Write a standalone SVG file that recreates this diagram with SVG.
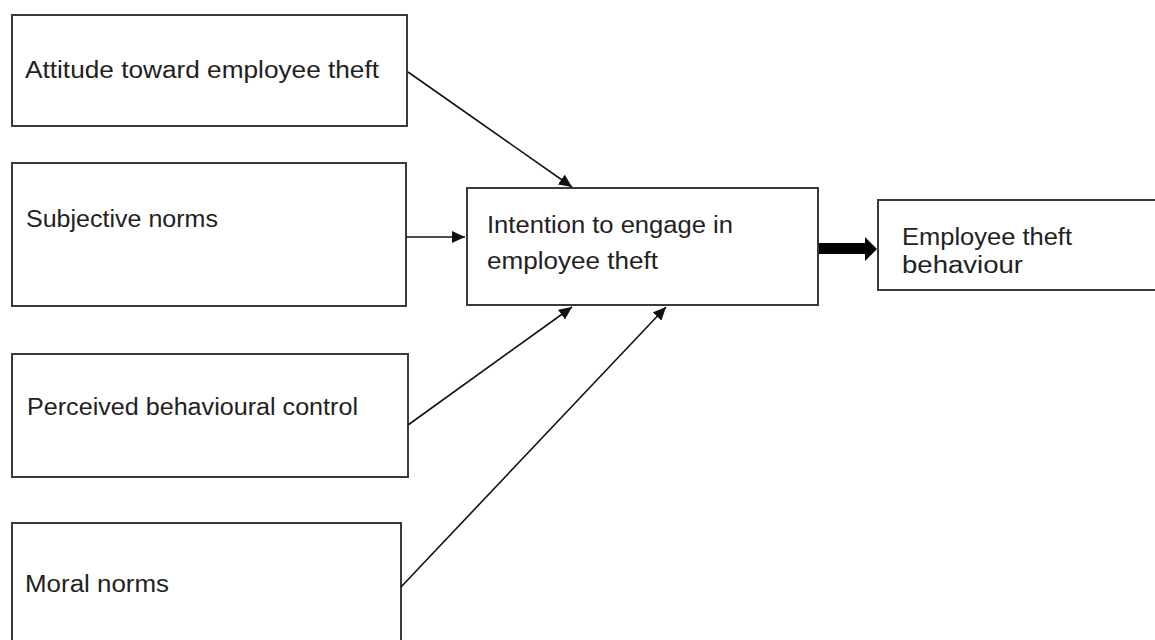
<svg xmlns="http://www.w3.org/2000/svg" width="1155" height="640" viewBox="0 0 1155 640">
<style>
.box{fill:#fff;stroke:#3a3a3a;stroke-width:2}
.t{font-family:"Liberation Sans",Arial,sans-serif;font-size:23px;fill:#222}
.c{stroke:#111;stroke-width:1.6;fill:none}
</style>
<defs>
<marker id="ah" markerUnits="userSpaceOnUse" markerWidth="14" markerHeight="12" refX="13" refY="6" orient="auto">
<path d="M0,0 L13,6 L0,12 Z" fill="#111"/>
</marker>
</defs>
<rect width="1155" height="640" fill="#fff"/>
<g id="attitude">
<rect class="box" x="12" y="15" width="395" height="111"/>
<text class="t" x="25" y="78" textLength="354" lengthAdjust="spacingAndGlyphs">Attitude toward employee theft</text>
</g>
<g id="subjective">
<rect class="box" x="12" y="163" width="394" height="143"/>
<text class="t" x="26" y="227" textLength="192" lengthAdjust="spacingAndGlyphs">Subjective norms</text>
</g>
<g id="perceived">
<rect class="box" x="12" y="354" width="396" height="123"/>
<text class="t" x="27" y="415" textLength="331" lengthAdjust="spacingAndGlyphs">Perceived behavioural control</text>
</g>
<g id="moral">
<rect class="box" x="12" y="523" width="389" height="130"/>
<text class="t" x="25" y="592" textLength="144" lengthAdjust="spacingAndGlyphs">Moral norms</text>
</g>
<g id="intention">
<rect class="box" x="467" y="188" width="351" height="117"/>
<text class="t" x="487" y="233" textLength="246" lengthAdjust="spacingAndGlyphs">Intention to engage in</text>
<text class="t" x="487" y="269" textLength="171" lengthAdjust="spacingAndGlyphs">employee theft</text>
</g>
<g id="behaviour">
<rect class="box" x="878" y="200" width="290" height="90"/>
<text class="t" x="902" y="245" textLength="170" lengthAdjust="spacingAndGlyphs">Employee theft</text>
<text class="t" x="902" y="273" textLength="121" lengthAdjust="spacingAndGlyphs">behaviour</text>
</g>
<g id="connectors">
<line class="c" x1="408" y1="72" x2="572" y2="187" marker-end="url(#ah)"/>
<line class="c" x1="406" y1="237" x2="465" y2="237" marker-end="url(#ah)"/>
<line class="c" x1="408" y1="425" x2="572" y2="307" marker-end="url(#ah)"/>
<line class="c" x1="401" y1="587" x2="666" y2="307" marker-end="url(#ah)"/>
<polygon points="819,243 865,243 865,237 877,249 865,261 865,254 819,254" fill="#000"/>
</g>
</svg>
